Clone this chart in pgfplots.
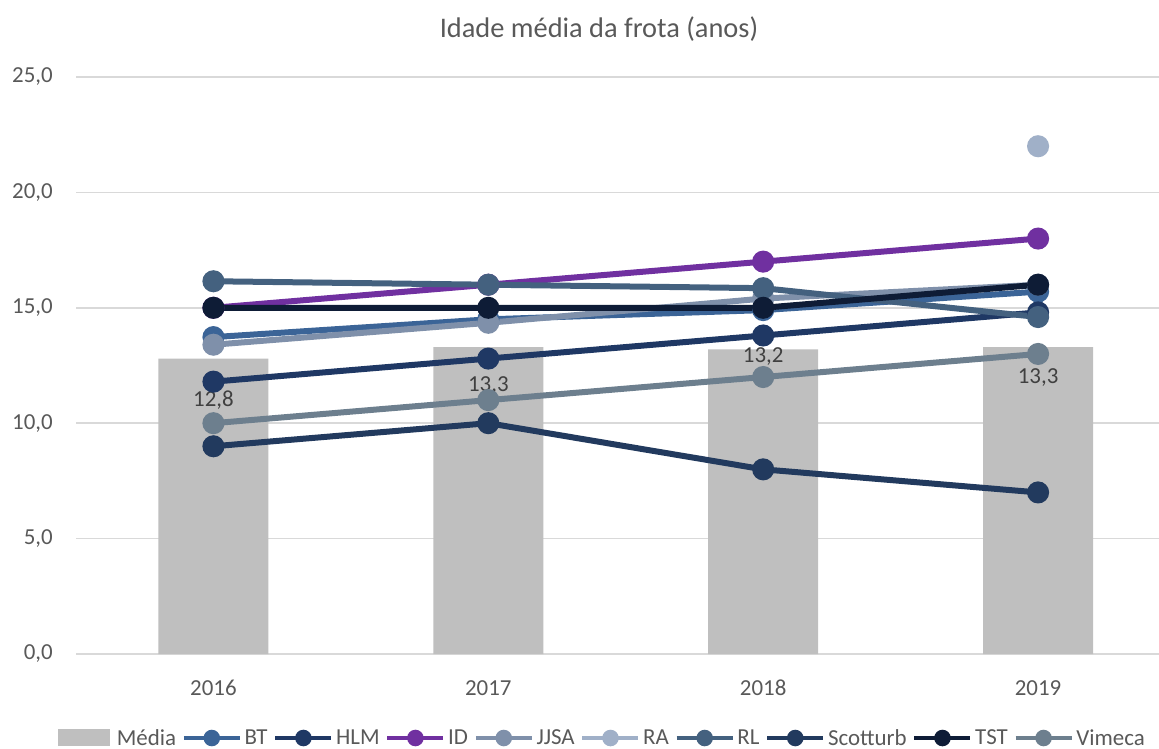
\documentclass[border=0pt]{standalone}
\usepackage{pgfplots}
\pgfplotsset{compat=1.18}
\usepackage{fontspec}
\setmainfont{Carlito}
\definecolor{cMedia}{HTML}{BFBFBF}
\definecolor{cBT}{HTML}{3B6497}
\definecolor{cHLM}{HTML}{1F3864}
\definecolor{cID}{HTML}{7030A0}
\definecolor{cJJSA}{HTML}{7F90AA}
\definecolor{cRA}{HTML}{A0B0C8}
\definecolor{cRL}{HTML}{44617F}
\definecolor{cSco}{HTML}{223A5E}
\definecolor{cTST}{HTML}{0E1C36}
\definecolor{cVim}{HTML}{6D7F8E}
\definecolor{cText}{HTML}{595959}
\definecolor{cLab}{HTML}{404040}
\definecolor{cGrid}{HTML}{D9D9D9}
\begin{document}
\begin{tikzpicture}
\useasboundingbox (0bp,0bp) rectangle (1159bp,749bp);
\node[font=\fontsize{28.5}{32}\selectfont, text=cText] at (599bp,720bp) {Idade média da frota (anos)};
\begin{axis}[
  at={(76bp,95bp)}, anchor=south west,
  width=1083bp, height=577bp, scale only axis,
  xmin=-0.5, xmax=3.44, ymin=0, ymax=25,
  axis line style={draw=none},
  major tick length=0pt,
  xtick={0,1,2,3}, xticklabels={2016,2017,2018,2019},
  ytick={0,5,10,15,20,25},
  ymajorgrids, grid style={cGrid, line width=1.5bp},
  tick label style={font=\fontsize{23}{27}\selectfont, text=cText},
  xticklabel style={anchor=base, yshift=-41bp},
  yticklabel style={anchor=east, inner sep=0pt, xshift=-23bp},
  /pgf/number format/.cd, use comma, fixed, fixed zerofill, precision=1, assume math mode=true,
  /pgfplots/.cd,
  clip=false,
  legend columns=-1,
  legend style={at={(0.4857,-0.1456)}, anchor=center, draw=none, fill=none,
    font=\fontsize{23}{27}\selectfont, text=cText,
    nodes={inner sep=1bp},
    /tikz/every even column/.append style={column sep=4.5bp},
    /tikz/every odd column/.append style={column sep=1.5bp},
    inner sep=0pt},
  legend image code/.code={\draw[#1, line width=4.5bp, mark size=6bp, mark repeat=2, mark phase=2] plot coordinates {(0bp,0bp)(28bp,0bp)(56bp,0bp)};},
  every axis plot/.append style={line width=6bp, mark=*, mark size=8bp, mark options={solid}},
]
\addplot[ybar, bar shift=0pt, bar width=110bp, fill=cMedia, draw=none, mark=none,
  legend image code/.code={\fill[cMedia] (0bp,-8bp) rectangle (52bp,9bp); \path (56bp,0bp);}]
  coordinates {(0,12.8)(1,13.3)(2,13.2)(3,13.3)};
\addlegendentry{Média}
\addplot[color=cBT] coordinates {(0,13.73)(1,14.5)(2,14.9)(3,15.7)};
\addlegendentry{BT}
\addplot[color=cHLM] coordinates {(0,11.8)(1,12.8)(2,13.8)(3,14.8)};
\addlegendentry{HLM}
\addplot[color=cID] coordinates {(0,15)(1,16)(2,17)(3,18)};
\addlegendentry{ID}
\addplot[color=cJJSA] coordinates {(0,13.4)(1,14.35)(2,15.4)(3,16.0)};
\addlegendentry{JJSA}
\addplot[color=cRA] coordinates {(3,22)};
\addlegendentry{RA}
\addplot[color=cRL] coordinates {(0,16.15)(1,16.0)(2,15.85)(3,14.6)};
\addlegendentry{RL}
\addplot[color=cSco] coordinates {(0,9)(1,10)(2,8)(3,7)};
\addlegendentry{Scotturb}
\addplot[color=cTST] coordinates {(0,15)(1,15)(2,15)(3,16)};
\addlegendentry{TST}
\addplot[color=cVim] coordinates {(0,10)(1,11)(2,12)(3,13)};
\addlegendentry{Vimeca}
\node[font=\fontsize{23}{27}\selectfont, text=cLab] at (axis cs:0,11.0) {12,8};
\node[font=\fontsize{23}{27}\selectfont, text=cLab] at (axis cs:1,11.65) {13,3};
\node[font=\fontsize{23}{27}\selectfont, text=cLab] at (axis cs:2,12.87) {13,2};
\node[font=\fontsize{23}{27}\selectfont, text=cLab] at (axis cs:3,11.96) {13,3};
\end{axis}
\end{tikzpicture}
\end{document}
